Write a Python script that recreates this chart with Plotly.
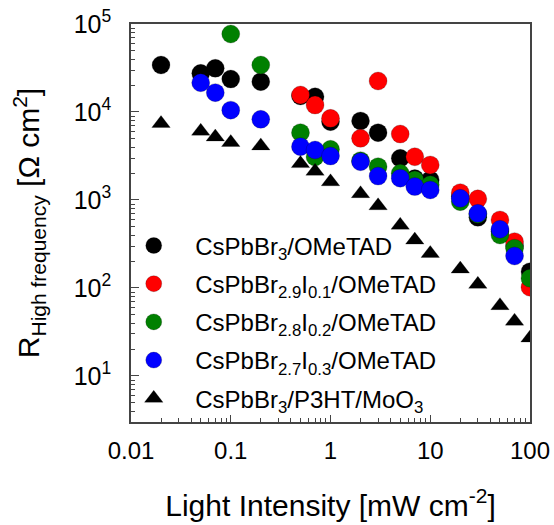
import plotly.graph_objects as go

# Light intensity [mW cm-2]
x_black = [0.02, 0.05, 0.07, 0.1, 0.2, 0.5, 0.7, 1, 2, 3, 5, 7, 10, 20, 30, 50, 70, 100]
y_black = [34200, 27500, 31400, 23700, 22100, 15200, 14900, 7760, 7910, 5820, 2980, 1750, 1690, 1100, 635, 440, 300, 153]

x_red = [0.5, 0.7, 1, 2, 3, 5, 7, 10, 20, 30, 50, 70, 100]
y_red = [15600, 12000, 8470, 5020, 22500, 5620, 3100, 2500, 1210, 1030, 593, 336, 102]

x_green = [0.1, 0.2, 0.5, 0.7, 1, 2, 3, 5, 7, 10, 20, 30, 50, 70, 100]
y_green = [77000, 34200, 5820, 3090, 3770, 2800, 2390, 2010, 1690, 1490, 957, 690, 400, 283, 129]

x_blue = [0.05, 0.07, 0.1, 0.2, 0.5, 0.7, 1, 2, 3, 5, 7, 10, 20, 30, 50, 70]
y_blue = [21500, 16600, 10500, 8260, 4040, 3700, 3160, 2720, 1870, 1770, 1420, 1300, 1045, 706, 465, 231]

x_tri = [0.02, 0.05, 0.07, 0.1, 0.2, 0.5, 0.7, 1, 2, 3, 5, 7, 10, 20, 30, 50, 70, 100]
y_tri = [7400, 6050, 5200, 4500, 4120, 2590, 2120, 1610, 1180, 860, 517, 350, 247, 164, 110, 63, 42, 27]

names = [
    "CsPbBr<sub>3</sub>/OMeTAD",
    "CsPbBr<sub>2.9</sub>I<sub>0.1</sub>/OMeTAD",
    "CsPbBr<sub>2.8</sub>I<sub>0.2</sub>/OMeTAD",
    "CsPbBr<sub>2.7</sub>I<sub>0.3</sub>/OMeTAD",
    "CsPbBr<sub>3</sub>/P3HT/MoO<sub>3</sub>",
]

x_tickvals = [0.01, 0.1, 1, 10, 100]
x_ticktext = ["0.01", "0.1", "1", "10", "100"]
y_tickvals = [10, 100, 1000, 10000, 100000]
y_ticktext = ["10<sup>1</sup>", "10<sup>2</sup>", "10<sup>3</sup>", "10<sup>4</sup>", "10<sup>5</sup>"]

FONT = "Arial, Liberation Sans, sans-serif"

series = [
    (x_black, y_black, "#000000", "circle", 18),
    (x_red, y_red, "#ff0000", "circle", 18),
    (x_green, y_green, "#008000", "circle", 18),
    (x_blue, y_blue, "#0000ff", "circle", 18),
    (x_tri, y_tri, "#000000", "triangle-up", 16),
]

fig = go.Figure()
for i, ((xs, ys, col, sym, sz), nm) in enumerate(zip(series, names)):
    fig.add_trace(go.Scatter(
        x=xs, y=ys, mode="markers", name=nm, legendgroup=f"g{i}",
        marker=dict(color=col, symbol=sym, size=sz,
                    line=dict(color="rgba(0,0,0,0.35)", width=0.6)),
    ))

minor_x = [m * 10 ** e for e in range(-2, 2) for m in range(2, 10)]
minor_y = [m * 10 ** e for e in range(0, 5) for m in range(2, 10)]

fig.update_layout(
    width=554, height=525,
    margin=dict(l=131, r=24, t=24, b=103, autoexpand=False),
    paper_bgcolor="white", plot_bgcolor="white",
    font=dict(family=FONT, color="black"),
    showlegend=True,
    legend=dict(
        x=-0.047, y=0.499, xanchor="left", yanchor="top",
        bgcolor="rgba(0,0,0,0)", font=dict(size=24, family=FONT),
        itemwidth=73, tracegroupgap=4, traceorder="grouped",
    ),
    xaxis=dict(
        type="log", range=[-2, 2], automargin=False,
        tickvals=x_tickvals, ticktext=x_ticktext,
        ticks="inside", ticklen=7, tickwidth=1, tickcolor="#444",
        minor=dict(tickvals=minor_x, ticks="inside", ticklen=4, tickcolor="#444"),
        showline=True, linecolor="#444", linewidth=1.5, mirror=True,
        showgrid=False, zeroline=False,
        tickfont=dict(size=24, family=FONT),
        ticklabelstandoff=6, ticklabeloverflow="allow",
        title=dict(text="Light Intensity [mW cm<sup>-2</sup>]",
                   font=dict(size=30, family=FONT), standoff=32),
    ),
    yaxis=dict(
        type="log", range=[0.477, 5], automargin=False,
        tickvals=y_tickvals, ticktext=y_ticktext,
        ticks="inside", ticklen=8, tickwidth=1, tickcolor="#444",
        minor=dict(tickvals=minor_y, ticks="inside", ticklen=4, tickcolor="#444"),
        showline=True, linecolor="#444", linewidth=1.5, mirror=True,
        showgrid=False, zeroline=False,
        tickfont=dict(size=25, family=FONT),
        ticklabelstandoff=13, ticklabeloverflow="allow",
        title=dict(text="R<sub>High frequency</sub> [\u03a9 cm<sup>2</sup>]",
                   font=dict(size=30, family=FONT), standoff=25),
    ),
)

# remove the default 8px page margin so the 554x525 figure fills the window
fig.write_html(
    "out.html",
    config={"displayModeBar": False},
    post_script="document.body.style.margin='0';document.body.style.overflow='hidden';",
)
